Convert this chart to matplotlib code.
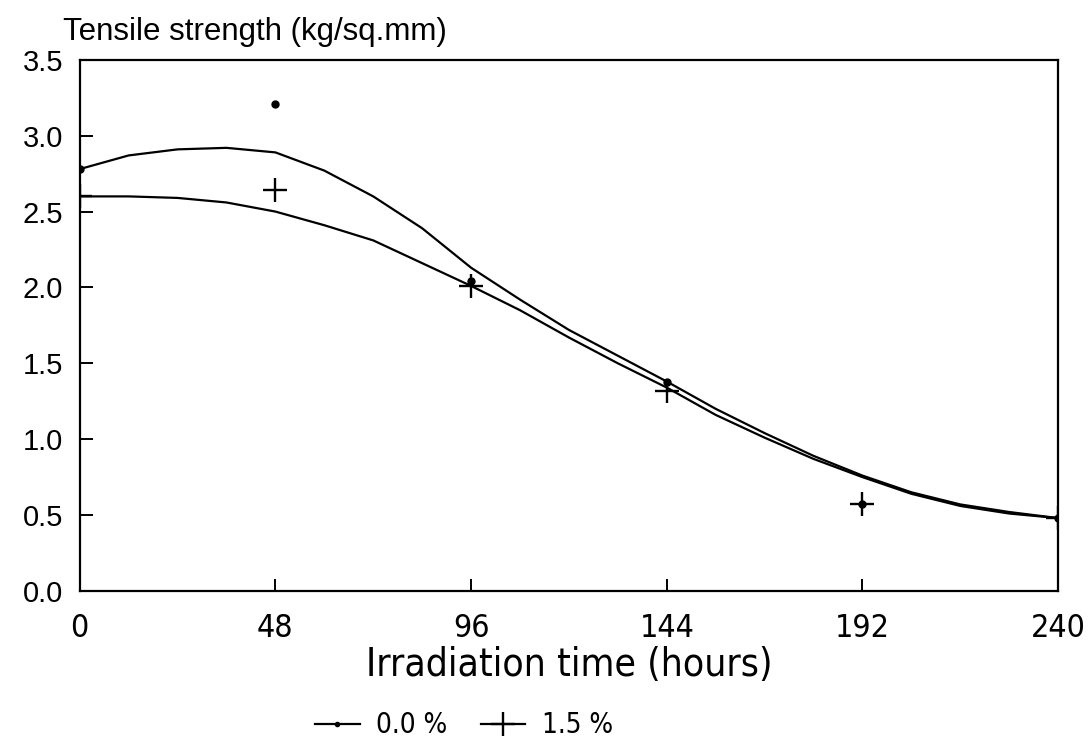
import matplotlib.pyplot as plt

# === Daten ===
stunden = [0, 48, 96, 144, 192, 240]
punkte_00 = [2.78, 3.21, 2.04, 1.38, 0.57, 0.48]
punkte_15 = [2.60, 2.64, 2.01, 1.32, 0.57, 0.48]

kurve_h = [0, 12, 24, 36, 48, 60, 72, 84, 96, 108, 120, 132, 144,
           156, 168, 180, 192, 204, 216, 228, 240]
kurve_00 = [2.78, 2.87, 2.91, 2.92, 2.89, 2.77, 2.60, 2.39, 2.13, 1.92, 1.72,
            1.55, 1.38, 1.20, 1.04, 0.89, 0.76, 0.65, 0.57, 0.52, 0.48]
kurve_15 = [2.60, 2.60, 2.59, 2.56, 2.50, 2.41, 2.31, 2.16, 2.01, 1.85, 1.67,
            1.50, 1.34, 1.16, 1.01, 0.87, 0.75, 0.64, 0.56, 0.51, 0.48]

x_ticks = [0, 48, 96, 144, 192, 240]
y_ticks = [0.0, 0.5, 1.0, 1.5, 2.0, 2.5, 3.0, 3.5]

plt.rcParams['font.family'] = ['Liberation Sans', 'DejaVu Sans']
schmal = dict(family='DejaVu Sans', fontstretch='condensed')

fig = plt.figure(figsize=(10.92, 7.48), dpi=100)
ax = fig.add_axes([0.073, 0.21, 0.896, 0.71])

ax.plot(kurve_h, kurve_00, color='black', linewidth=1.6)
ax.plot(kurve_h, kurve_15, color='black', linewidth=1.6)
ax.plot(stunden, punkte_00, linestyle='none', marker='o', markersize=5,
        color='black')
ax.plot(stunden, punkte_15, linestyle='none', marker='+', markersize=17,
        markeredgewidth=1.7, color='black')

ax.set_xlim(0, 240)
ax.set_ylim(0, 3.5)
ax.set_xticks(x_ticks)
ax.set_yticks(y_ticks)
ax.set_yticklabels([f"{v:.1f}" for v in y_ticks], fontsize=21)
ax.set_xticklabels([str(v) for v in x_ticks], fontsize=23, **schmal)
ax.tick_params(axis='both', direction='in', length=9, width=1.4, color='black')
ax.tick_params(axis='x', pad=16)
ax.tick_params(axis='y', pad=12)
for s in ax.spines.values():
    s.set_linewidth(1.6)

ax.set_xlabel("Irradiation time (hours)", fontsize=28, labelpad=1, **schmal)
ax.text(-0.017, 1.025, "Tensile strength (kg/sq.mm)", transform=ax.transAxes,
        fontsize=22.5, ha='left', va='bottom')

# Legende unten
h1, = ax.plot([], [], color='black', linewidth=1.6, marker='o', markersize=3)
h2, = ax.plot([], [], color='black', linewidth=1.6, marker='+', markersize=17,
              markeredgewidth=1.7)
fig.legend([h1, h2], ["0.0 %", "1.5 %"], loc='lower center', ncol=2,
           frameon=False, handlelength=1.6, columnspacing=1.2,
           handletextpad=0.6, bbox_to_anchor=(0.425, -0.022),
           prop={'family': 'DejaVu Sans', 'stretch': 'condensed', 'size': 20})

plt.savefig("out.png", dpi=100)
